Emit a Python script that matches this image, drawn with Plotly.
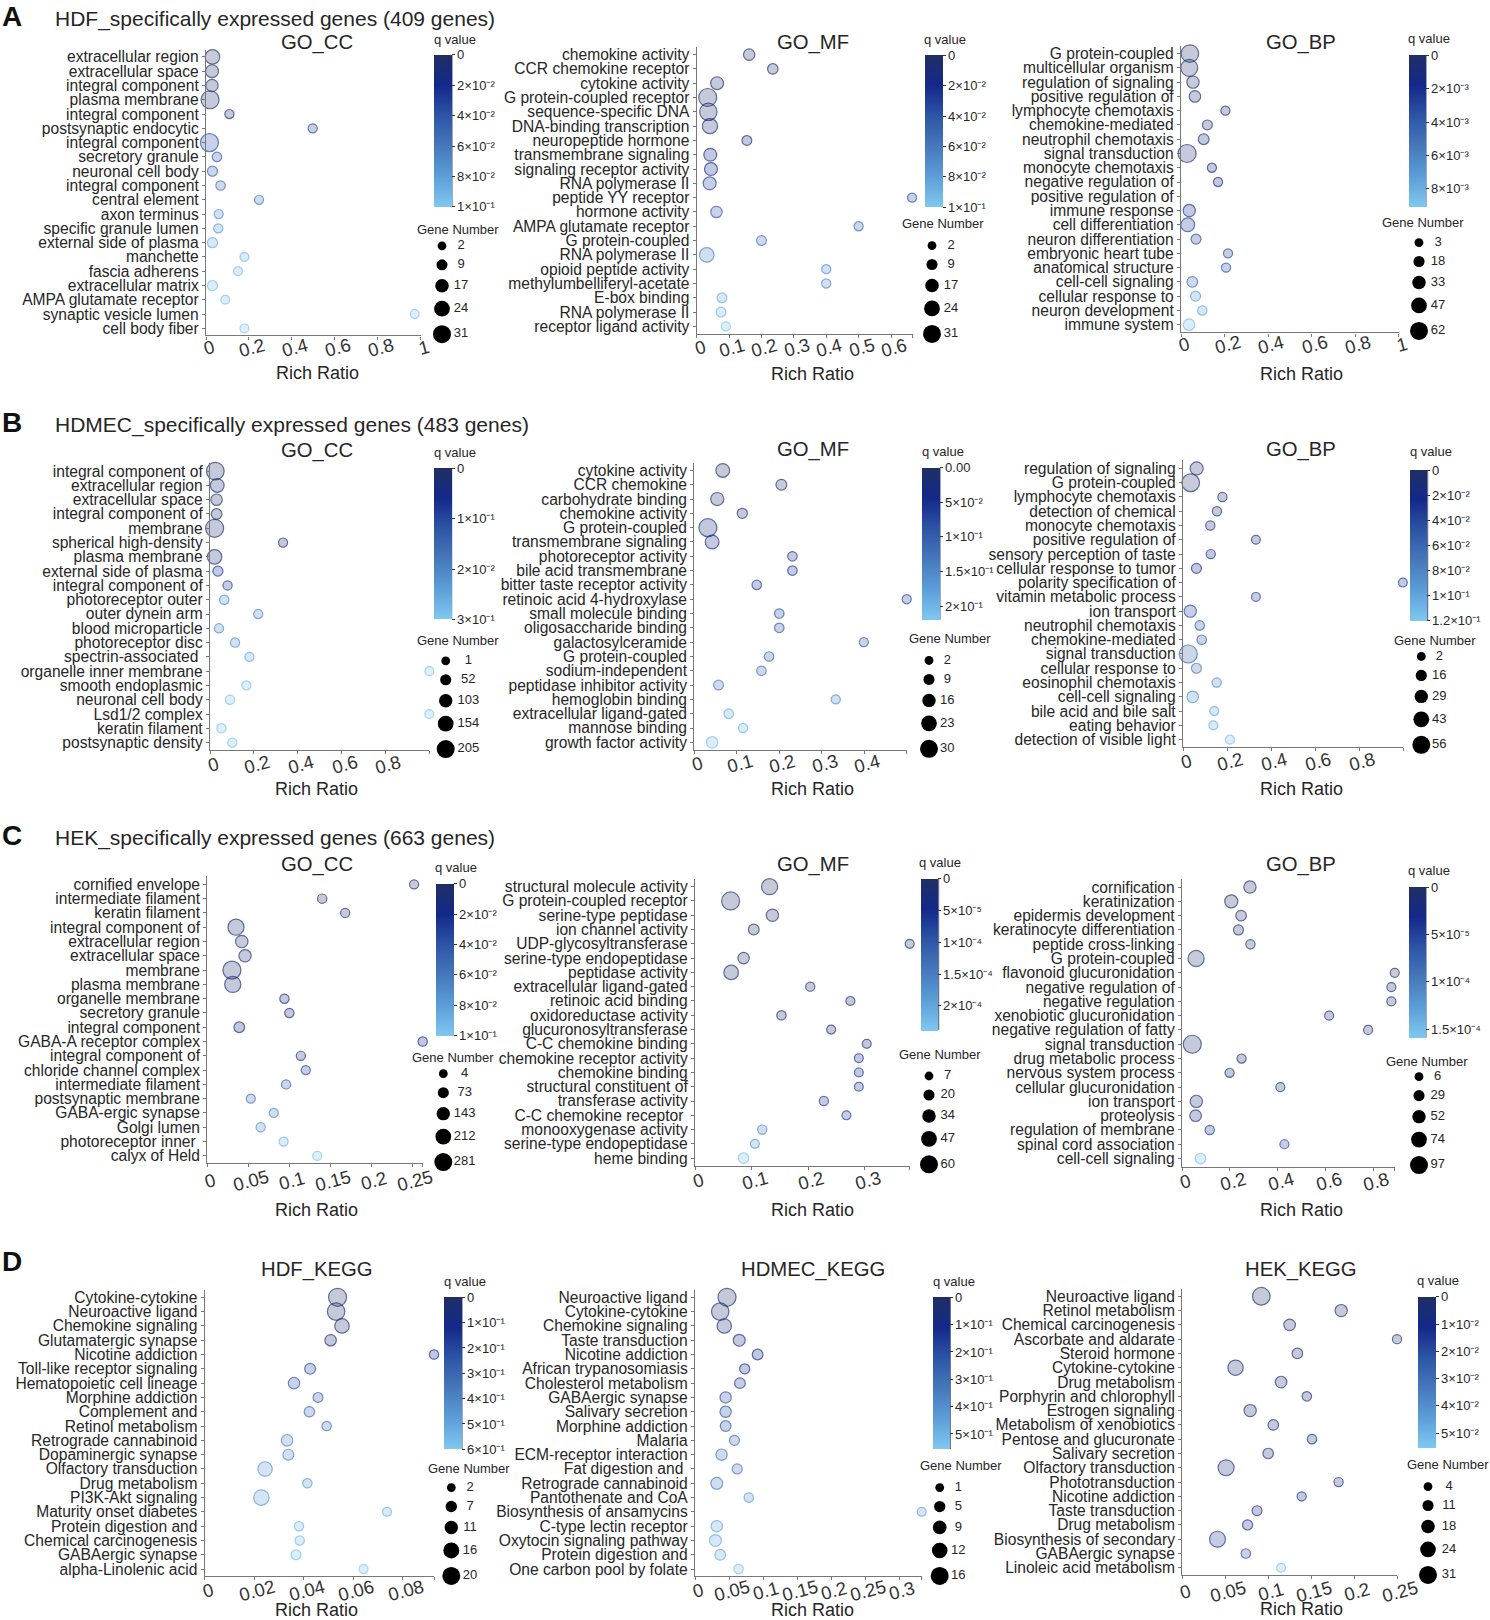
import plotly.graph_objects as go

W, H = 1490, 1620
FONT = "Liberation Sans"
INK = "#262626"

# ---------- data ----------
A_CC_TERMS = ["extracellular region","extracellular space","integral component","plasma membrane","integral component","postsynaptic endocytic","integral component","secretory granule","neuronal cell body","integral component","central element","axon terminus","specific granule lumen","external side of plasma","manchette","fascia adherens","extracellular matrix","AMPA glutamate receptor","synaptic vesicle lumen","cell body fiber"]
A_CC_RATIO = [.03,.028,.028,.019,.109,.497,.016,.051,.03,.068,.247,.059,.057,.03,.179,.149,.03,.09,.972,.179]
A_CC_GENES = [20,15,13,31,3,3,31,4,6,4,3,3,3,6,2,2,6,2,2,2]
A_CC_Q = [.002,.003,.004,.005,.01,.03,.035,.04,.045,.055,.06,.07,.075,.085,.09,.092,.094,.095,.097,.099]

A_MF_TERMS = ["chemokine activity","CCR chemokine receptor","cytokine activity","G protein-coupled receptor","sequence-specific DNA","DNA-binding transcription","neuropeptide hormone","transmembrane signaling","signaling receptor activity","RNA polymerase II","peptide YY receptor","hormone activity","AMPA glutamate receptor","G protein-coupled","RNA polymerase II","opioid peptide activity","methylumbelliferyl-acetate","E-box binding","RNA polymerase II","receptor ligand activity"]
A_MF_RATIO = [.162,.235,.063,.034,.036,.041,.155,.042,.044,.04,.665,.061,.5,.2,.031,.4,.4,.078,.075,.09]
A_MF_GENES = [10,7,15,31,29,22,5,15,15,15,3,10,3,5,20,3,3,5,5,3]
A_MF_Q = [.001,.002,.003,.004,.006,.008,.012,.015,.02,.03,.035,.04,.05,.055,.065,.068,.07,.085,.09,.098]

A_BP_TERMS = ["G protein-coupled","multicellular organism","regulation of signaling","positive regulation of","lymphocyte chemotaxis","chemokine-mediated","neutrophil chemotaxis","signal transduction","monocyte chemotaxis","negative regulation of","positive regulation of","immune response","cell differentiation","neuron differentiation","embryonic heart tube","anatomical structure","cell-cell signaling","cellular response to","neuron development","immune system"]
A_BP_RATIO = [.041,.038,.055,.064,.204,.121,.104,.028,.142,.17,None,.038,.031,.069,.216,.207,.052,.067,.098,.037]
A_BP_GENES = [59,55,25,20,5,10,15,62,5,5,3,25,35,10,5,5,15,10,6,20]
A_BP_Q = [.0001,.0002,.0003,.0004,.0005,.0006,.0006,.0007,.001,.0012,.0015,.002,.0025,.0028,.003,.0033,.0045,.007,.0075,.0085]

B_CC_TERMS = ["integral component of","extracellular region","extracellular space","integral component of","membrane","spherical high-density","plasma membrane","external side of plasma","integral component of","photoreceptor outer","outer dynein arm","blood microparticle","photoreceptor disc","spectrin-associated ","organelle inner membrane","smooth endoplasmic","neuronal cell body","Lsd1/2 complex","keratin filament","postsynaptic density"]
B_CC_RATIO = [.024,.033,.03,.03,.021,.333,.021,.036,.08,.065,.22,.041,.114,.18,1.0,.166,.091,1.0,.052,.102]
B_CC_GENES = [197,110,60,42,205,8,125,28,10,12,8,10,12,8,3,8,10,3,12,8]
B_CC_Q = [.005,.02,.01,.01,.015,.03,.03,.07,.08,.2,.2,.2,.21,.25,.29,.29,.29,.29,.29,.29]

B_MF_TERMS = ["cytokine activity","CCR chemokine","carbohydrate binding","chemokine activity","G protein-coupled","transmembrane signaling","photoreceptor activity","bile acid transmembrane","bitter taste receptor activity","retinoic acid 4-hydroxylase","small molecule binding","oligosaccharide binding","galactosylceramide","G protein-coupled","sodium-independent","peptidase inhibitor activity","hemoglobin binding","extracellular ligand-gated","mannose binding","growth factor activity"]
B_MF_RATIO = [.067,.205,.054,.113,.032,.042,.231,.231,.147,.5,.2,.2,.399,.176,.158,.057,.333,.081,.115,.042]
B_MF_GENES = [17,8,15,6,30,17,4,4,4,3,4,4,3,4,4,5,3,4,3,10]
B_MF_Q = [.002,.005,.008,.01,.03,.035,.05,.055,.06,.07,.08,.085,.09,.1,.12,.13,.15,.19,.2,.21]

B_BP_TERMS = ["regulation of signaling","G protein-coupled","lymphocyte chemotaxis","detection of chemical","monocyte chemotaxis","positive regulation of","sensory perception of taste","cellular response to tumor","polarity specification of","vitamin metabolic process","ion transport","neutrophil chemotaxis","chemokine-mediated","signal transduction","cellular response to","eosinophil chemotaxis","cell-cell signaling","bile acid and bile salt","eating behavior","detection of visible light"]
B_BP_RATIO = [.062,.035,.179,.154,.124,.331,.126,.061,.998,.331,.033,.076,.085,.024,.061,.153,.044,.142,.138,.213]
B_BP_GENES = [27,54,4,4,4,2,4,9,2,2,22,6,6,56,9,4,18,3,3,3]
B_BP_Q = [.002,.003,.004,.006,.008,.01,.02,.025,.03,.035,.04,.05,.05,.055,.07,.08,.085,.1,.105,.115]

C_CC_TERMS = ["cornified envelope","intermediate filament","keratin filament","integral component of","extracellular region","extracellular space","membrane","plasma membrane","organelle membrane","secretory granule","integral component","GABA-A receptor complex","integral component of","chloride channel complex","intermediate filament","postsynaptic membrane","GABA-ergic synapse","Golgi lumen","photoreceptor inner ","calyx of Held"]
C_CC_RATIO = [.252,.14,.168,.035,.042,.046,.03,.031,.094,.1,.039,.2625,.114,.12,.096,.053,.081,.065,.093,.134]
C_CC_GENES = [15,20,15,223,115,110,281,225,18,18,60,18,15,12,15,12,12,14,12,10]
C_CC_Q = [.002,.003,.004,.005,.006,.007,.008,.009,.01,.012,.013,.02,.022,.03,.045,.055,.065,.07,.09,.097]

C_MF_TERMS = ["structural molecule activity","G protein-coupled receptor","serine-type peptidase","ion channel activity","UDP-glycosyltransferase","serine-type endopeptidase","peptidase activity","extracellular ligand-gated","retinoic acid binding","oxidoreductase activity","glucuronosyltransferase","C-C chemokine binding","chemokine receptor activity","chemokine binding","structural constituent of","transferase activity","C-C chemokine receptor ","monooxygenase activity","serine-type endopeptidase","heme binding"]
C_MF_RATIO = [.132,.063,.137,.104,.38,.086,.064,.204,.275,.153,.241,.304,.29,.29,.29,.228,.268,.119,.106,.086]
C_MF_GENES = [49,60,27,18,8,22,40,9,8,10,8,7,7,7,7,9,8,9,8,16]
C_MF_Q = [1e-6,2e-6,3e-6,4e-6,5e-6,6e-6,7e-6,8e-6,9e-6,1.2e-5,2e-5,3e-5,5e-5,5.2e-5,5.5e-5,6e-5,7e-5,1.5e-4,1.8e-4,2.3e-4]

C_BP_TERMS = ["cornification","keratinization","epidermis development","keratinocyte differentiation","peptide cross-linking","G protein-coupled","flavonoid glucuronidation","negative regulation of","negative regulation","xenobiotic glucuronidation","negative regulation of fatty","signal transduction","drug metabolic process","nervous system process","cellular glucuronidation","ion transport","proteolysis","regulation of membrane","spinal cord association","cell-cell signaling"]
C_BP_RATIO = [.284,.206,.247,.236,.286,.059,.889,.875,.875,.615,.778,.043,.249,.199,.411,.06,.057,.116,.428,.077]
C_BP_GENES = [40,48,24,18,10,78,8,8,8,8,8,97,9,9,8,40,34,10,8,24]
C_BP_Q = [1e-6,2e-6,2.5e-6,3e-6,3.5e-6,4e-6,4.5e-6,5e-6,5.5e-6,6e-6,7e-6,8e-6,9e-6,1e-5,1.2e-5,1.6e-5,2.5e-5,4e-5,4.5e-5,1.5e-4]

D_HDF_TERMS = ["Cytokine-cytokine","Neuroactive ligand","Chemokine signaling","Glutamatergic synapse","Nicotine addiction","Toll-like receptor signaling","Hematopoietic cell lineage","Morphine addiction","Complement and","Retinol metabolism","Retrograde cannabinoid","Dopaminergic synapse","Olfactory transduction","Drug metabolism","PI3K-Akt signaling","Maturity onset diabetes","Protein digestion and","Chemical carcinogenesis","GABAergic synapse","alpha-Linolenic acid"]
D_HDF_RATIO = [.0537,.0531,.0555,.0509,.0927,.0426,.0361,.0458,.0423,.0493,.0333,.0338,.0244,.0415,.0229,.0737,.0381,.0384,.0369,.0642]
D_HDF_GENES = [20,19,13,7,3,6,7,4,5,3,7,6,13,3,15,2,3,3,4,2]
D_HDF_Q = [.005,.02,.03,.08,.12,.2,.23,.26,.3,.33,.4,.4,.44,.46,.47,.52,.55,.56,.57,.59]

D_HDMEC_TERMS = ["Neuroactive ligand","Cytokine-cytokine","Chemokine signaling","Taste transduction","Nicotine addiction","African trypanosomiasis","Cholesterol metabolism","GABAergic synapse","Salivary secretion","Morphine addiction","Malaria","ECM-receptor interaction","Fat digestion and ","Retrograde cannabinoid","Pantothenate and CoA","Biosynthesis of ansamycins","C-type lectin receptor","Oxytocin signaling pathway","Protein digestion and","One carbon pool by folate"]
D_HDMEC_RATIO = [.047,.037,.043,.065,.092,.073,.066,.045,.045,.045,.058,.039,.062,.032,.079,.333,.032,.03,.037,.064]
D_HDMEC_GENES = [16,15,10,6,4,3,4,5,5,4,3,5,3,6,2,1,5,6,4,2]
D_HDMEC_Q = [.005,.03,.05,.07,.08,.12,.16,.2,.21,.22,.28,.3,.32,.34,.42,.44,.45,.46,.47,.53]

D_HEK_TERMS = ["Neuroactive ligand","Retinol metabolism","Chemical carcinogenesis","Ascorbate and aldarate","Steroid hormone","Cytokine-cytokine","Drug metabolism","Porphyrin and chlorophyll","Estrogen signaling","Metabolism of xenobiotics","Pentose and glucuronate","Salivary secretion","Olfactory transduction","Phototransduction","Nicotine addiction","Taste transduction","Drug metabolism","Biosynthesis of secondary","GABAergic synapse","Linoleic acid metabolism"]
D_HEK_RATIO = [.092,.185,.125,.25,.134,.062,.115,.145,.079,.106,.151,.1,.051,.182,.139,.087,.076,.041,.074,.115]
D_HEK_GENES = [30,14,12,5,9,23,12,6,14,9,6,9,25,5,5,7,8,25,6,4]
D_HEK_Q = [.0005,.001,.0015,.002,.0025,.003,.0035,.004,.0045,.005,.0055,.006,.007,.0075,.008,.009,.012,.014,.019,.053]

# gene-number legends
A_CC_LEG = [2,9,17,24,31]
A_MF_LEG = [2,9,17,24,31]
A_BP_LEG = [3,18,33,47,62]
B_CC_LEG = [1,52,103,154,205]
B_MF_LEG = [2,9,16,23,30]
B_BP_LEG = [2,16,29,43,56]
C_CC_LEG = [4,73,143,212,281]
C_MF_LEG = [7,20,34,47,60]
C_BP_LEG = [6,29,52,74,97]
D_HDF_LEG = [2,7,11,16,20]
D_HDMEC_LEG = [1,5,9,12,16]
D_HEK_LEG = [4,11,18,24,31]

# tick labels
T5 = ["0","0.2","0.4","0.6","0.8","1"]
E1, E2, E3, E4, E5 = "×10⁻¹", "×10⁻²", "×10⁻³", "×10⁻⁴", "×10⁻⁵"
Q_TICKS_E2 = ([0,.02,.04,.06,.08,.1], ["0"]+[f"{n}{E2}" for n in (2,4,6,8)]+[f"1{E1}"])

# ---------- layout of the 12 panels (page pixels) ----------
P = [
 dict(t="GO_CC", terms=A_CC_TERMS, r=A_CC_RATIO, g=A_CC_GENES, q=A_CC_Q, leg=A_CC_LEG,
      x0=206, x1=420.7, xmax=1, top=48, bot=334, first=55, last=327, ticks=[0,.2,.4,.6,.8,1], tl=T5, tdy=12.5,
      cx=317, ty=41, ry=372, cb=(434,452,53,205.3), qmax=.1, qt=Q_TICKS_E2, qx=455, qy=38,
      lx=442, ly=244.3, ltx=458, lty=228, lab=19),
 dict(t="GO_MF", terms=A_MF_TERMS, r=A_MF_RATIO, g=A_MF_GENES, q=A_MF_Q, leg=A_MF_LEG,
      x0=696.7, x1=912.7, xmax=.667, top=45, bot=332.3, first=52.7, last=325, ticks=[0,.1,.2,.3,.4,.5,.6], tl=["0","0.1","0.2","0.3","0.4","0.5","0.6"], tdy=13.5,
      cx=812.7, ty=40.7, ry=372.3, cb=(924.7,942.3,53.3,205.3), qmax=.1, qt=Q_TICKS_E2, qx=945, qy=37.3,
      lx=932, ly=244, ltx=943, lty=222, lab=19),
 dict(t="GO_BP", terms=A_BP_TERMS, r=A_BP_RATIO, g=A_BP_GENES, q=A_BP_Q, leg=A_BP_LEG,
      x0=1181, x1=1398.7, xmax=1, top=44, bot=331, first=51.7, last=323.3, ticks=[0,.2,.4,.6,.8,1], tl=T5, tdy=12.5,
      cx=1301, ty=40.7, ry=372.3, cb=(1408.7,1426,53.3,205.3), qmax=.0091,
      qt=([0,.002,.004,.006,.008], ["0"]+[f"{n}{E3}" for n in (2,4,6,8)]), qx=1429, qy=37,
      lx=1419, ly=241, ltx=1422.7, lty=221, lab=19),
 dict(t="GO_CC", terms=B_CC_TERMS, r=B_CC_RATIO, g=B_CC_GENES, q=B_CC_Q, leg=B_CC_LEG,
      x0=210, x1=429.3, xmax=1, top=461.7, bot=749.3, first=470, last=742, ticks=[0,.2,.4,.6,.8], tl=T5[:5], tdy=14.5,
      cx=316.7, ty=449, ry=788.3, cb=(434,451.7,467.3,618.3), qmax=.3,
      qt=([0,.1,.2,.3], ["0",f"1{E1}",f"2{E2}",f"3{E1}"]), qx=454.7, qy=451,
      lx=445.7, ly=660, ltx=458.3, lty=639.3, lab=22.6),
 dict(t="GO_MF", terms=B_MF_TERMS, r=B_MF_RATIO, g=B_MF_GENES, q=B_MF_Q, leg=B_MF_LEG,
      x0=694.3, x1=906.7, xmax=.5, top=462.3, bot=749, first=469.3, last=741.7, ticks=[0,.1,.2,.3,.4], tl=["0","0.1","0.2","0.3","0.4"], tdy=13.5,
      cx=812.7, ty=448.3, ry=788.3, cb=(922.3,940,466.7,618.7), qmax=.22,
      qt=([0,.05,.1,.15,.2], ["0.00",f"5{E2}",f"1{E1}",f"1.5{E1}",f"2{E1}"]), qx=942.7, qy=450.7,
      lx=929, ly=659.7, ltx=950, lty=637.7, lab=18.3),
 dict(t="GO_BP", terms=B_BP_TERMS, r=B_BP_RATIO, g=B_BP_GENES, q=B_BP_Q, leg=B_BP_LEG,
      x0=1183, x1=1403.3, xmax=1, top=459.3, bot=746, first=467.3, last=739, ticks=[0,.2,.4,.6,.8], tl=T5[:5], tdy=14.5,
      cx=1301, ty=448.3, ry=788.3, cb=(1410.3,1427.7,469.3,620), qmax=.1205,
      qt=([0,.02,.04,.06,.08,.1,.12], ["0"]+[f"{n}{E2}" for n in (2,4,6,8)]+[f"1{E1}",f"1.2{E1}"]), qx=1431, qy=450.7,
      lx=1421.3, ly=655.7, ltx=1434.7, lty=639.3, lab=18),
 dict(t="GO_CC", terms=C_CC_TERMS, r=C_CC_RATIO, g=C_CC_GENES, q=C_CC_Q, leg=C_CC_LEG,
      x0=207.3, x1=422.7, xmax=.2625, top=876, bot=1163.3, first=884, last=1156, ticks=[0,.05,.1,.15,.2,.25], tl=["0","0.05","0.1","0.15","0.2","0.25"], tdy=17.5,
      cx=316.7, ty=864.3, ry=1210.7, cb=(435.7,453.3,883.3,1035), qmax=.1, qt=Q_TICKS_E2, qx=456.3, qy=867.3,
      lx=443.3, ly=1073.7, ltx=453.3, lty=1057.7, lab=21.4),
 dict(t="GO_MF", terms=C_MF_TERMS, r=C_MF_RATIO, g=C_MF_GENES, q=C_MF_Q, leg=C_MF_LEG,
      x0=695, x1=909.7, xmax=.38, top=879, bot=1165.7, first=886.3, last=1158.3, ticks=[0,.1,.2,.3], tl=["0","0.1","0.2","0.3"], tdy=14.5,
      cx=812.7, ty=864, ry=1210.7, cb=(921.3,938.7,878.3,1030), qmax=2.39e-4,
      qt=([0,5e-5,1e-4,1.5e-4,2e-4], ["0",f"5{E5}",f"1{E4}",f"1.5{E4}",f"2{E4}"]), qx=940, qy=862.3,
      lx=929, ly=1076, ltx=940, lty=1054.3, lab=18.7),
 dict(t="GO_BP", terms=C_BP_TERMS, r=C_BP_RATIO, g=C_BP_GENES, q=C_BP_Q, leg=C_BP_LEG,
      x0=1182, x1=1394.7, xmax=.889, top=879, bot=1166.7, first=886.7, last=1158.7, ticks=[0,.2,.4,.6,.8], tl=T5[:5], tdy=14.5,
      cx=1301, ty=864, ry=1210.7, cb=(1408.7,1426,886.7,1037.7), qmax=1.595e-4,
      qt=([0,5e-5,1e-4,1.5e-4], ["0",f"5{E5}",f"1{E4}",f"1.5{E4}"]), qx=1429.3, qy=870.3,
      lx=1419, ly=1076.7, ltx=1427.3, lty=1061, lab=18.7),
 dict(t="HDF_KEGG", terms=D_HDF_TERMS, r=D_HDF_RATIO, g=D_HDF_GENES, q=D_HDF_Q, leg=D_HDF_LEG,
      x0=204.7, x1=434.3, xmax=.0928, top=1290, bot=1577, first=1297.7, last=1570, ticks=[0,.02,.04,.06,.08], tl=["0","0.02","0.04","0.06","0.08"], tdy=14.5,
      cx=316.7, ty=1270, ry=1611, cb=(444.3,462,1297.7,1449.7), qmax=.6,
      qt=([0,.1,.2,.3,.4,.5,.6], ["0"]+[f"{n}{E1}" for n in range(1,7)]), qx=465, qy=1282,
      lx=451.3, ly=1488.3, ltx=469, lty=1469, lab=18.7),
 dict(t="HDMEC_KEGG", terms=D_HDMEC_TERMS, r=D_HDMEC_RATIO, g=D_HDMEC_GENES, q=D_HDMEC_Q, leg=D_HDMEC_LEG,
      x0=695, x1=921.7, xmax=.333, top=1290, bot=1577, first=1297.7, last=1570, ticks=[0,.05,.1,.15,.2,.25,.3], tl=["0","0.05","0.1","0.15","0.2","0.25","0.3"], tdy=14.5,
      cx=812.7, ty=1270, ry=1611, cb=(933,950.3,1297.7,1449.7), qmax=.556,
      qt=([0,.1,.2,.3,.4,.5], ["0"]+[f"{n}{E1}" for n in range(1,6)]), qx=954, qy=1282,
      lx=939.7, ly=1488.3, ltx=961, lty=1466, lab=18.6),
 dict(t="HEK_KEGG", terms=D_HEK_TERMS, r=D_HEK_RATIO, g=D_HEK_GENES, q=D_HEK_Q, leg=D_HEK_LEG,
      x0=1182.3, x1=1397, xmax=.25, top=1289.3, bot=1575.7, first=1296.7, last=1568.7, ticks=[0,.05,.1,.15,.2,.25], tl=["0","0.05","0.1","0.15","0.2","0.25"], tdy=16.5,
      cx=1301, ty=1270, ry=1610, cb=(1417.7,1435.3,1297.3,1448.7), qmax=.0554,
      qt=([0,.01,.02,.03,.04,.05], ["0"]+[f"{n}{E2}" for n in range(1,6)]), qx=1438.3, qy=1281,
      lx=1428, ly=1487.3, ltx=1448.3, lty=1465.3, lab=21),
]
HEADINGS = [("A","HDF_specifically expressed genes (409 genes)",15,17),
            ("B","HDMEC_specifically expressed genes (483 genes)",421.7,423.3),
            ("C","HEK_specifically expressed genes (663 genes)",835,837.3),
            ("D",None,1262,None)]

RAMP = [(0,(128,200,240)),(.2,(92,158,216)),(.4,(70,120,187)),(.6,(45,85,165)),(.8,(20,40,138)),(1,(31,47,100))]
SOLID = [[s,f"rgb({c[0]},{c[1]},{c[2]})"] for s,c in RAMP]
SOFT = [[s,f"rgba({c[0]},{c[1]},{c[2]},0.36)"] for s,c in RAMP]
LEG_OFF = [0,19,40,63,88.5]

px = lambda v: v/W
py = lambda v: 1-v/H

def diam(n, lo, hi):
    return 8.8+9.2*(n-lo)/(hi-lo)

fig = go.Figure()
ann, shapes, layout = [], [], {}

def text(s, x, y, size, xanchor="center", bold=False, color=INK, **kw):
    d = dict(text=f"<b>{s}</b>" if bold else s, showarrow=False, xanchor=xanchor, yanchor="middle",
             font=dict(family=FONT,size=size,color=color))
    d.update(x=x, y=y, xref=kw.pop("xref","paper"), yref=kw.pop("yref","paper"))
    d.update(kw)
    ann.append(d)

for i,p in enumerate(P):
    k = 2*i+1
    xa, ya = f"x{k}", f"y{k}"
    lo, hi = p["leg"][0], p["leg"][-1]
    n = len(p["terms"])
    rows = list(range(n))
    step = (p["last"]-p["first"])/(n-1)
    ca = "coloraxis" if i==0 else f"coloraxis{i+1}"
    neg = [-v for v in p["q"]]
    fig.add_trace(go.Scatter(x=p["r"], y=rows, xaxis=xa, yaxis=ya, mode="markers", cliponaxis=False,
        showlegend=False,
        marker=dict(size=[diam(v,lo,hi) for v in p["g"]], sizemode="diameter",
                    color=neg, colorscale=SOFT, cmin=-p["qmax"], cmax=0, showscale=False,
                    line=dict(color=neg, coloraxis=ca, width=1.2))))
    l,r,t,b = p["cb"]
    layout[ca] = dict(cmin=-p["qmax"], cmax=0, colorscale=SOLID, colorbar=dict(
        x=px(l), xanchor="left", y=py(t), yanchor="top", len=b-t, lenmode="pixels",
        thickness=r-l, thicknessmode="pixels", xpad=0, ypad=0, outlinewidth=0,
        tickmode="array", tickvals=[-v for v in p["qt"][0]], ticktext=p["qt"][1],
        ticks="outside", ticklen=3, tickwidth=1, tickcolor="#333",
        tickfont=dict(family=FONT,size=13,color=INK)))
    shapes.append(dict(type="line",xref="paper",yref="paper",x0=px(r),x1=px(r),y0=py(t),y1=py(b),line=dict(color="#4a5570",width=1)))

    tv = list(p["ticks"]) + ([] if p["ticks"][-1]==p["xmax"] else [p["xmax"]])
    axis_line = dict(color="#777", width=1.3)
    layout[f"xaxis{k}"] = dict(domain=[px(p["x0"]),px(p["x1"])], range=[0,p["xmax"]], anchor=ya, tickmode="array",
        tickvals=tv, showticklabels=False, ticks="outside", ticklen=3, tickcolor="#777",
        showgrid=False, zeroline=False, showline=True, linecolor=axis_line["color"], linewidth=axis_line["width"])
    layout[f"yaxis{k}"] = dict(domain=[py(p["bot"]),py(p["top"])],
        range=[(p["bot"]-p["first"])/step,(p["top"]-p["first"])/step], anchor=xa, tickmode="array",
        tickvals=rows, ticktext=p["terms"], ticks="outside", ticklen=3, tickcolor="#777",
        tickfont=dict(family=FONT,size=15.6,color=INK), showgrid=False, zeroline=False,
        showline=True, linecolor=axis_line["color"], linewidth=axis_line["width"])
    for tv_, tl_ in zip(p["ticks"],p["tl"]):
        text(tl_, tv_, py(p["bot"]+p["tdy"]), 18.5, xref=xa, textangle=-15, xshift=3, color="#333")
    text(p["t"], px(p["cx"]), py(p["ty"]), 20.3)
    text("Rich Ratio", px(p["cx"]), py(p["ry"]), 18)
    text("q value", px(p["qx"]), py(p["qy"]), 13)
    text("Gene Number", px(p["ltx"]), py(p["lty"]), 13)

    # size legend on its own hidden axes (pixel units relative to the first circle)
    k2 = k+1
    xb, yb = f"x{k2}", f"y{k2}"
    layout[f"xaxis{k2}"] = dict(domain=[px(p["lx"]-15),px(p["lx"]+45)], range=[-15,45], anchor=yb, visible=False)
    layout[f"yaxis{k2}"] = dict(domain=[py(p["ly"]+100),py(p["ly"]-10)], range=[100,-10], anchor=xb, visible=False)
    fig.add_trace(go.Scatter(x=[0]*5, y=LEG_OFF, xaxis=xb, yaxis=yb, mode="markers", showlegend=False, cliponaxis=False,
        marker=dict(size=[diam(v,lo,hi) for v in p["leg"]], color="#000000", opacity=1, line=dict(width=0))))
    fig.add_trace(go.Scatter(x=[p["lab"]]*5, y=LEG_OFF, xaxis=xb, yaxis=yb, mode="text", showlegend=False, cliponaxis=False,
        text=[str(v) for v in p["leg"]], textposition="middle center",
        textfont=dict(family=FONT,size=13,color=INK)))

for letter, heading, ly, hy in HEADINGS:
    text(letter, px(0), py(ly), 28, xanchor="left", bold=True, color="#111")
    if heading:
        text(heading, px(53), py(hy), 21, xanchor="left")

fig.update_layout(width=W, height=H, margin=dict(l=0,r=0,t=0,b=0), autosize=False,
    paper_bgcolor="white", plot_bgcolor="rgba(0,0,0,0)", showlegend=False,
    font=dict(family=FONT,color=INK), annotations=ann, shapes=shapes, **layout)
fig.write_html("out.html", post_script="document.body.style.margin='0';", config=dict(displayModeBar=False))
